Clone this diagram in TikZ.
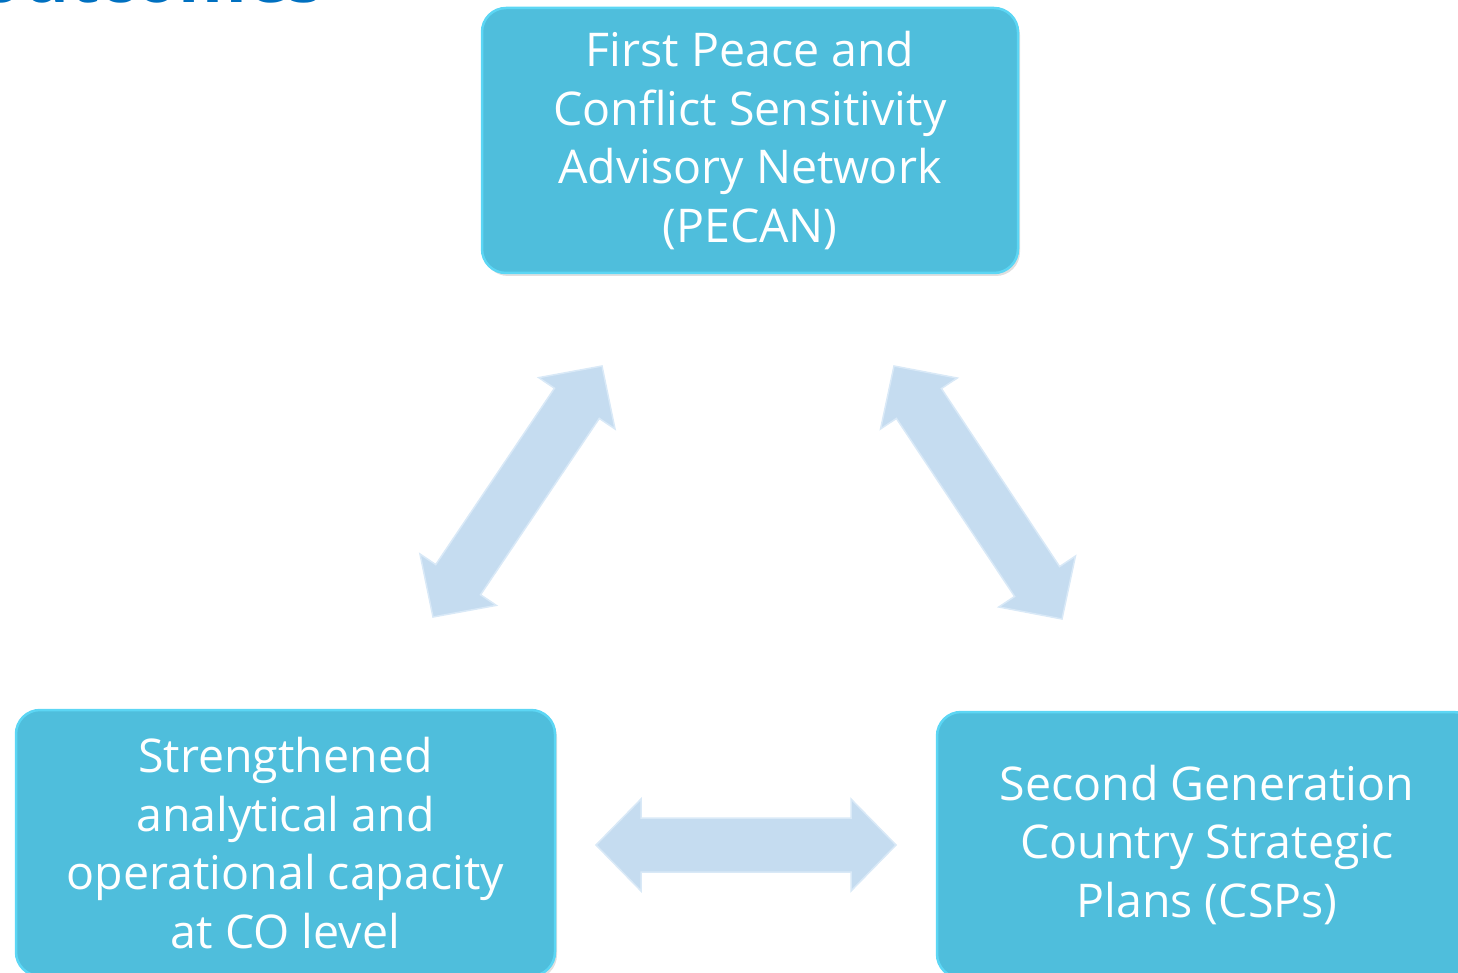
\documentclass[tikz,border=0pt]{standalone}
\usepackage{fontspec}
\setmainfont{Open Sans}
\usetikzlibrary{calc,shadows}
\definecolor{boxfill}{HTML}{4FBEDC}
\definecolor{boxedge}{HTML}{5CD6F4}
\definecolor{arrfill}{HTML}{C5DCF0}
\definecolor{arredge}{HTML}{D9E9F7}
\definecolor{titleblue}{HTML}{0070C0}
\tikzset{
  box/.style={draw=boxedge, line width=2.5pt, fill=boxfill, rounded corners=24pt,
    text=white, align=center, inner sep=0pt,
    font=\fontsize{46.5}{58.7}\selectfont,
    drop shadow={opacity=0.25, shadow xshift=2pt, shadow yshift=-3pt}},
  arrowshape/.style={fill=arrfill, draw=arredge, line width=1.5pt, line join=miter}
}
\newcommand\dblarrow[2]{%
  \coordinate (#1h) at ($(#1)!45pt!(#2)$);
  \coordinate (#2h) at ($(#2)!45pt!(#1)$);
  \path[arrowshape] (#1) -- ($(#1h)!46pt!90:(#2)$) -- ($(#1h)!27pt!90:(#2)$)
    -- ($(#2h)!27pt!-90:(#1)$) -- ($(#2h)!46pt!-90:(#1)$) -- (#2)
    -- ($(#2h)!46pt!90:(#1)$) -- ($(#2h)!27pt!90:(#1)$)
    -- ($(#1h)!27pt!-90:(#2)$) -- ($(#1h)!46pt!-90:(#2)$) -- cycle;
}
\begin{document}
\begin{tikzpicture}[x=1pt,y=-1pt]
\useasboundingbox (0,0) rectangle (1458,973);
\clip (0,0) rectangle (1458,973);
% clipped title (only its lower edge shows)
\node[anchor=base east, text=titleblue, font=\fontsize{70}{80}\selectfont\bfseries, inner sep=0pt] (title) at (324,3) {outcomes};
% boxes
\node[box, minimum width=536pt, minimum height=265pt] (pecan) at (750,140.5)
  {First Peace and\\Conflict Sensitivity\\Advisory Network\\(PECAN)};
\node[box, minimum width=539pt, minimum height=266pt] (capacity) at (285.5,843)
  {Strengthened\\analytical and\\operational capacity\\at CO level};
\node[box, minimum width=540pt, minimum height=266pt] (csp) at (1207,845)
  {Second Generation\\Country Strategic\\Plans (CSPs)};
% arrows
\coordinate (LA) at (433,617);
\coordinate (LB) at (602,366);
\coordinate (RA) at (894,366);
\coordinate (RB) at (1062,619);
\coordinate (HA) at (596,845);
\coordinate (HB) at (896,845);
\dblarrow{LA}{LB}
\dblarrow{RA}{RB}
\dblarrow{HA}{HB}
\end{tikzpicture}
\end{document}
